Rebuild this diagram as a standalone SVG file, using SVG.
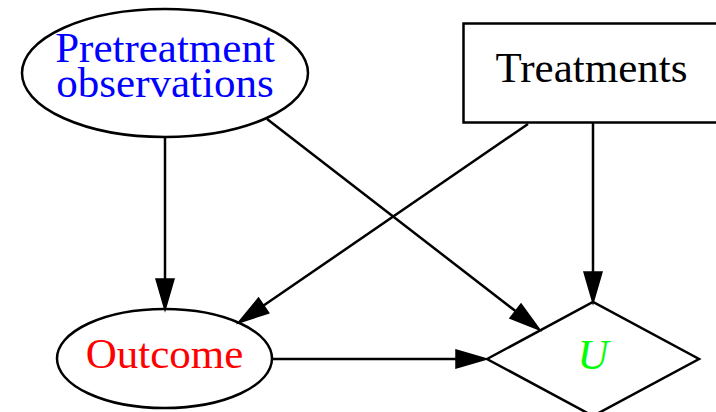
<svg xmlns="http://www.w3.org/2000/svg" width="716" height="412" viewBox="0 0 716 412">
<style>
.shape{fill:#fff;stroke:#000;stroke-width:2.5}
.lbl{font-family:"Liberation Serif","Times New Roman",serif;font-size:43px;text-anchor:middle}
.edge{fill:none;stroke:#000;stroke-width:2.5}
</style>
<defs>
<marker id="ah" markerUnits="userSpaceOnUse" markerWidth="34" markerHeight="22" refX="0" refY="9" orient="auto" overflow="visible">
<path d="M0,0 L31,9 L0,18 Z" fill="#000" stroke="#000" stroke-width="1.5"/>
</marker>
</defs>
<rect width="716" height="412" fill="#fff"/>
<g id="pretreatment">
<ellipse class="shape" cx="165" cy="73" rx="143" ry="64"/>
<text class="lbl" x="165" y="62" fill="#0000ff">Pretreatment</text>
<text class="lbl" x="165" y="97" fill="#0000ff">observations</text>
</g>
<g id="treatments">
<rect class="shape" x="463.5" y="23.5" width="270" height="99"/>
<text class="lbl" x="591.5" y="82" fill="#000">Treatments</text>
</g>
<g id="outcome">
<ellipse class="shape" cx="164.5" cy="358.5" rx="107.5" ry="49.5"/>
<text class="lbl" x="164.5" y="368" fill="#ff0000">Outcome</text>
</g>
<g id="u">
<polygon class="shape" points="487,359 593,302 699,359 593,416"/>
<text class="lbl" x="593" y="369" fill="#00ff00" font-style="italic">U</text>
</g>
<g id="connectors">
<line class="edge" x1="165" y1="137" x2="165" y2="279" marker-end="url(#ah)"/>
<line class="edge" x1="267" y1="119" x2="515.5" y2="311.1" marker-end="url(#ah)"/>
<line class="edge" x1="528" y1="124" x2="263.6" y2="305.5" marker-end="url(#ah)"/>
<line class="edge" x1="593" y1="123" x2="593" y2="272" marker-end="url(#ah)"/>
<line class="edge" x1="272" y1="359" x2="456" y2="359" marker-end="url(#ah)"/>
</g>
</svg>
